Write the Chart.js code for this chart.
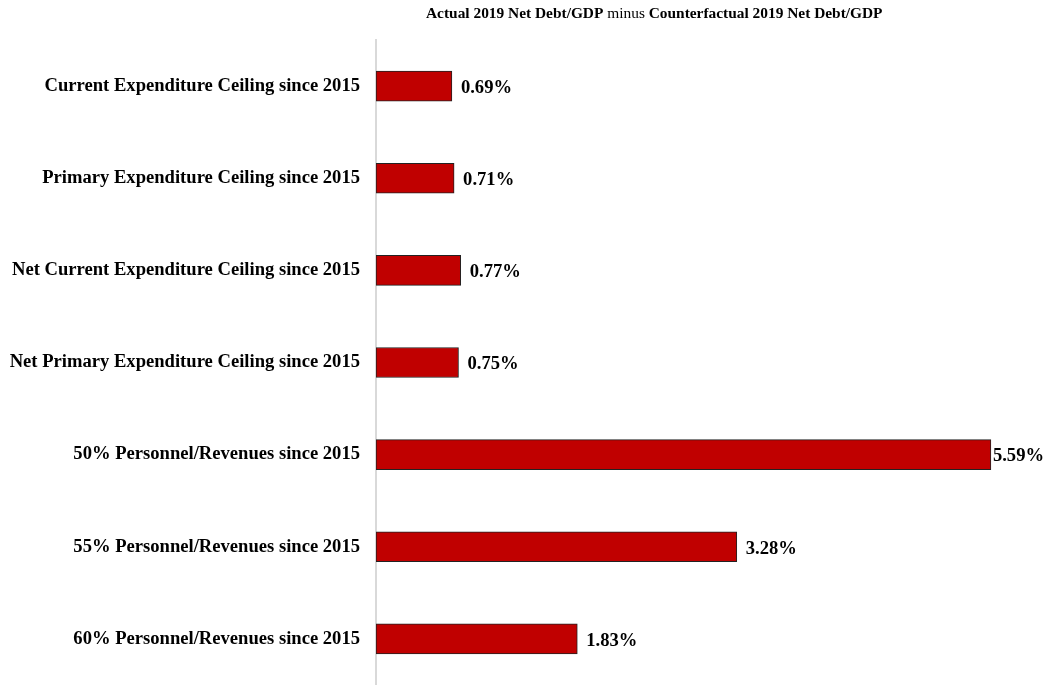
<!DOCTYPE html>
<html>
<head>
<meta charset="utf-8">
<script src="https://cdn.jsdelivr.net/npm/chart.js"></script>
<style>
  html, body { margin: 0; padding: 0; background: #fff; }
  #wrap { width: 1050px; height: 685px; }
</style>
</head>
<body>
<div id="wrap"><canvas id="c" width="1050" height="685"></canvas></div>
<script>
// categories top to bottom
const categories = [
  'Current Expenditure Ceiling since 2015',
  'Primary Expenditure Ceiling since 2015',
  'Net Current Expenditure Ceiling since 2015',
  'Net Primary Expenditure Ceiling since 2015',
  '50% Personnel/Revenues since 2015',
  '55% Personnel/Revenues since 2015',
  '60% Personnel/Revenues since 2015'
];
// difference in net debt/GDP, percentage points
const values = [0.69, 0.71, 0.77, 0.75, 5.59, 3.28, 1.83];

const SERIF = '"Liberation Serif", "Times New Roman", serif';

// title with mixed bold / normal runs
const titleParts = [
  { text: 'Actual 2019 Net Debt/GDP ', bold: true },
  { text: 'minus ', bold: false },
  { text: 'Counterfactual 2019 Net Debt/GDP', bold: true }
];

const titlePlugin = {
  id: 'mixedTitle',
  afterDraw(chart) {
    const ctx = chart.ctx;
    ctx.save();
    ctx.fillStyle = '#000';
    ctx.textBaseline = 'middle';
    let x = 426;
    titleParts.forEach(p => {
      ctx.font = (p.bold ? 'bold ' : '') + '15.4px ' + SERIF;
      ctx.fillText(p.text, x, 14);
      x += ctx.measureText(p.text).width;
    });
    ctx.restore();
  }
};

const valueLabels = {
  id: 'valueLabels',
  afterDatasetsDraw(chart) {
    const ctx = chart.ctx;
    const meta = chart.getDatasetMeta(0);
    ctx.save();
    ctx.font = 'bold 18.6px ' + SERIF;
    ctx.fillStyle = '#000';
    ctx.textBaseline = 'middle';
    meta.data.forEach((bar, i) => {
      const txt = values[i].toFixed(2) + '%';
      const w = ctx.measureText(txt).width;
      let x = bar.x + 9;
      if (x + w > chart.width - 2) x = bar.x + 2;
      ctx.fillText(txt, x, bar.y + 2);
    });
    ctx.restore();
  }
};

new Chart(document.getElementById('c'), {
  type: 'bar',
  data: {
    labels: categories,
    datasets: [{
      data: values,
      backgroundColor: '#C00000',
      borderColor: '#222',
      borderWidth: 1,
      borderSkipped: false,
      barThickness: 30
    }]
  },
  options: {
    indexAxis: 'y',
    responsive: false,
    animation: false,
    layout: { padding: { top: 40, right: 14, bottom: 0, left: 0 } },
    plugins: {
      legend: { display: false },
      tooltip: { enabled: false }
    },
    scales: {
      x: {
        display: false,
        min: 0,
        max: 6
      },
      y: {
        grid: { display: false, drawTicks: true, tickLength: 16, tickColor: 'rgba(0,0,0,0)' },
        border: { display: true, color: '#d9d9d9', width: 2 },
        ticks: {
          color: '#000',
          padding: 0,
          font: { family: SERIF, size: 18.6, weight: 'bold' }
        },
        afterFit(scale) { scale.width = 376; scale.paddingBottom = 0; scale.paddingTop = 0; }
      }
    }
  },
  plugins: [titlePlugin, valueLabels]
});
</script>
</body>
</html>
